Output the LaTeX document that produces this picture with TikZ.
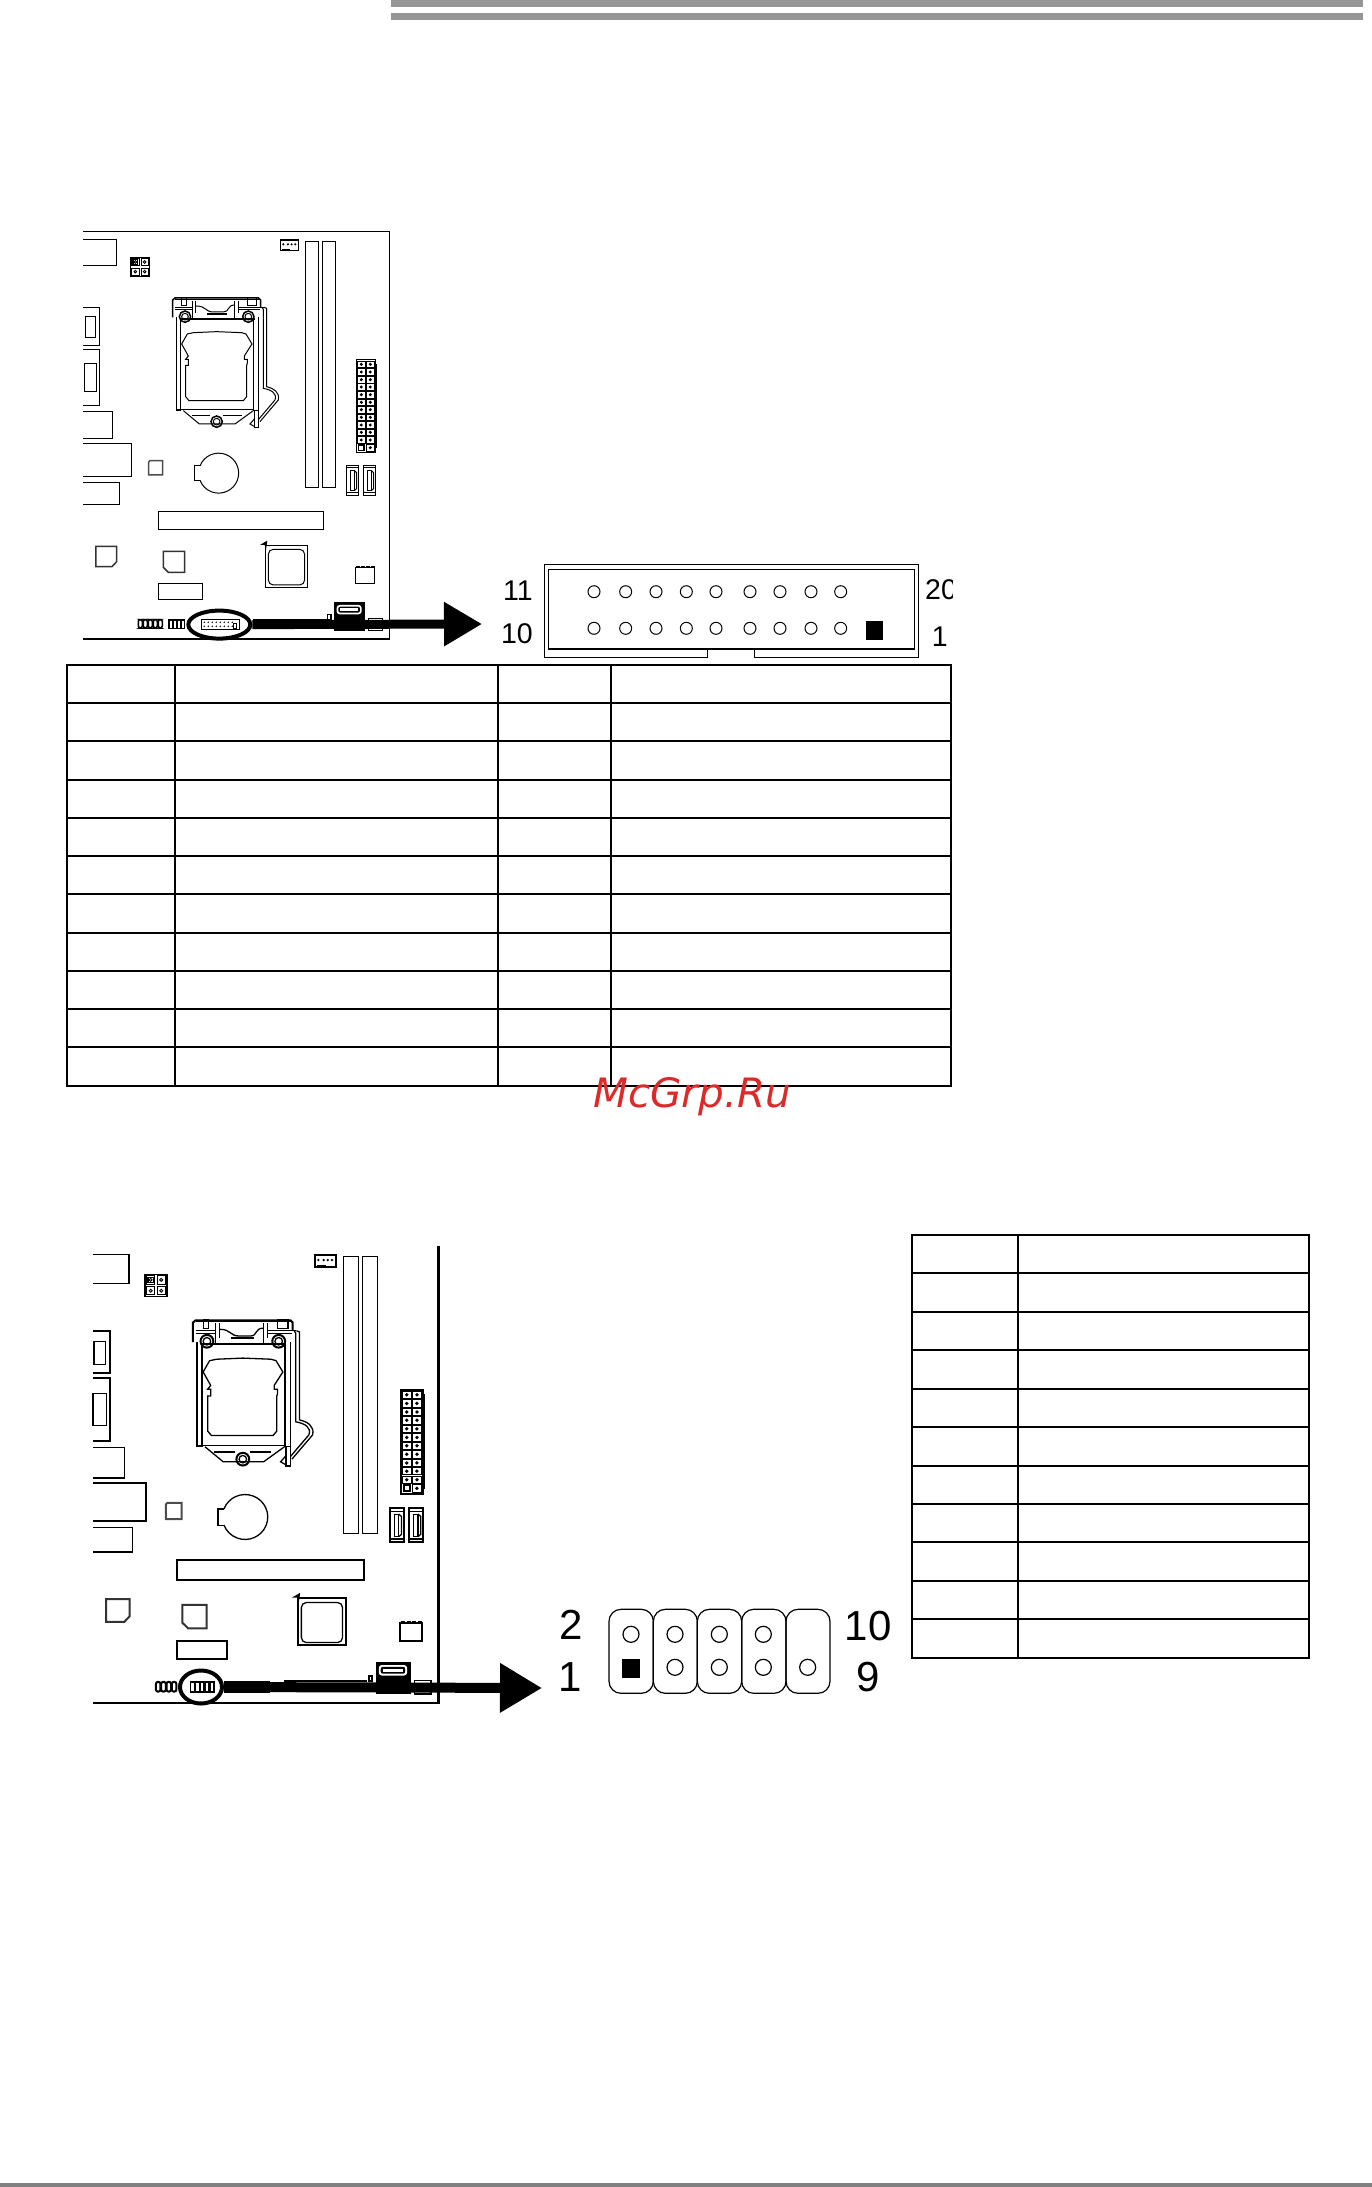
\documentclass[tikz,border=0pt]{standalone}
\usepackage{fontspec}
\setmainfont{Liberation Sans}
\newfontfamily\markfont{DejaVu Sans}
\usetikzlibrary{arrows.meta, positioning, shapes.geometric}
\definecolor{barGray}{HTML}{969696}
\definecolor{footGray}{HTML}{808080}
\definecolor{markRed}{HTML}{DC2A2A}

\tikzset{
  partline/.style={line width=1pt},
  heavypart/.style={line width=1.5pt},
  tableline/.style={line width=2pt},
  pinhole/.style={line width=1pt},
  pinlabel/.style={inner sep=0pt, font=\fontsize{28.5}{30}\selectfont},
  biglabel/.style={inner sep=0pt, font=\fontsize{42}{44}\selectfont},
  spotring/.style={draw, ellipse, line width=4pt, inner sep=0pt},
  bigarrow/.style={-{Triangle[length=38pt,width=42pt]}, line width=9pt}
}

% board sketch, in its own local coordinates
\newcommand{\boardsketch}{
  % io panel
  \draw[partline] (\boardleft,58) -- (169,58) -- (169,136) -- (\boardleft,136);
  \draw[heavypart] (\boardleft,262) -- (119,262) -- (119,376) -- (\boardleft,376);
  \draw[partline] (76,290) rectangle (106,352);
  \draw[heavypart] (\boardleft,388) -- (119,388) -- (119,556) -- (\boardleft,556);
  \draw[partline] (73,430) rectangle (109,515);
  \draw[partline] (\boardleft,574) -- (157,574) -- (157,655) -- (\boardleft,655);
  \draw[heavypart] (\boardleft,670) -- (214,670) -- (214,769) -- (\boardleft,769);
  \draw[partline] (\boardleft,787) -- (178,787) -- (178,853) -- (\boardleft,853);
  % cpu power
  \draw[line width=1.6pt] (211,112) rectangle (269,170);
  \foreach \xa/\ya in {226/126,254/126,226/155,254/155}{
    \draw[line width=.9pt] (\xa-11,\ya-11) rectangle (\xa+11,\ya+11);
    \draw[line width=.9pt] (\xa,\ya) circle (4);
  }
  \draw[line width=1.4pt] (219,119) rectangle (233,133);
  % fan header
  \draw[heavypart] (661,60) rectangle (716,92);
  \foreach \xa in {670,684,695,706}
    \fill (\xa,73) circle (3.5);
  \draw[heavypart] (666,88) -- (690,88);
  % memory slots
  \draw[partline] (737,64) rectangle (776,803);
  \draw[partline] (787,64) rectangle (827,803);
  % atx
  \draw[heavypart] (889,419) rectangle (947,697);
  \draw[partline] (947,433) -- (951,433) -- (951,683) -- (947,683);
  \foreach \ya in {433,456,479,501,524,547,569,592,615,637,660}{
    \draw[line width=.9pt] (893,\ya-10) rectangle (916,\ya+10);
    \draw[line width=.9pt] (920,\ya-10) rectangle (942,\ya+10);
    \fill (904,\ya) circle (5);
    \fill (931,\ya) circle (5);
  }
  \draw[heavypart] (896,675) rectangle (912,691);
  \draw[line width=.9pt] (920,673) rectangle (942,693);
  \fill (931,683) circle (5);
  % sata
  \foreach \xa in {859,910}{
    \draw[heavypart] (\xa,736) rectangle (\xa+37,826);
    \draw[partline] (\xa,744) -- (\xa+37,744) (\xa,818) -- (\xa+37,818);
    \draw[partline] (\xa+12,752) rectangle (\xa+24,812);
    \draw[partline] (\xa+24,752) -- (\xa+31,758) -- (\xa+31,806) -- (\xa+24,812);
  }
  % socket
  \draw[heavypart] (338,292) -- (338,240) -- (345,234) -- (596,234) -- (602,240) -- (602,262);
  \draw[partline] (345,238) -- (596,238);
  \draw[partline] (349,292) -- (349,572) -- (362,572);
  \draw[partline] (597,292) -- (597,572) -- (580,572);
  \draw[partline] (362,300) -- (362,572) (582,300) -- (582,572);
  \draw[partline] (350,568) -- (582,568);
  \draw[heavypart] (360,297) -- (585,297);
  \draw[partline] (345,262) -- (400,262) (345,270) -- (400,270);
  \draw[partline] (398,242) -- (398,294) (408,242) -- (408,280);
  \draw[partline] (525,242) -- (525,294) (535,242) -- (535,280);
  \draw[partline] (408,258) .. controls (440,258) and (435,276) .. (460,276) -- (490,276) .. controls (510,276) and (500,255) .. (525,255);
  \draw[heavypart] (440,282) -- (500,282);
  \draw[partline] (535,262) -- (612,262);
  \draw[partline] (535,270) -- (600,270);
  \draw[partline] (366,232) rectangle (380,256);
  \draw[partline] (562,232) rectangle (590,256);
  \draw[partline] (365,372) -- (382,342) -- (400,338) -- (470,335) -- (545,338) -- (558,342) -- (576,372) -- (553,408) -- (553,418) -- (562,418) -- (562,430) -- (560,436) -- (560,530) -- (550,542) -- (387,542) -- (377,530) -- (377,436) -- (385,436) -- (385,418) -- (377,418) -- (385,408) -- cycle;
  \draw[partline] (612,262) -- (620,265) -- (620,500) .. controls (640,505) and (660,515) .. (655,540) -- (600,605);
  \draw[partline] (606,262) -- (610,268) -- (610,505) .. controls (635,510) and (652,520) .. (645,540) -- (596,598);
  \draw[partline] (584,572) rectangle (596,623);
  \draw[partline] (584,596) -- (570,612) -- (584,620);
  \draw[partline] (370,572) -- (418,612) -- (525,612) -- (580,572);
  \draw[partline] (395,586) -- (450,586) (490,586) -- (545,586);
  \foreach \xa/\ya in {375/290,565/290,470/605}{
    \draw[heavypart] (\xa,\ya) circle (17);
    \draw[partline] (\xa,\ya) circle (10);
  }
  % battery
  \draw[partline] (420,738) -- (404,738) -- (404,782) -- (420,782);
  \draw[partline] (420,738) arc[start angle=201, end angle=519, radius=60];
  % small chip
  \draw[heavypart, black!70] (266,726) -- (270,722) -- (308,722) -- (308,765) -- (266,765) -- cycle;
  % pcie slot
  \draw[heavypart] (295,874) rectangle (790,928);
  % chips
  \draw[heavypart, black!80] (108,979) -- (170,979) -- (170,1025) -- (156,1040) -- (108,1040) -- cycle;
  \draw[heavypart, black!80] (310,994) -- (374,994) -- (374,1057) -- (325,1057) -- (310,1042) -- cycle;
  \draw[heavypart] (295,1090) rectangle (427,1138);
  % south bridge
  \draw[heavypart] (616,976) rectangle (742,1102);
  \draw[partline, rounded corners=5] (625,988) rectangle (734,1095);
  \fill (600,975) -- (622,962) -- (618,990) -- (614,975) -- cycle;
  % small part
  \draw[heavypart] (886,1042) rectangle (944,1090);
  \foreach \xa in {889,904,919,934}
    \draw[line width=1.6pt] (\xa,1040) -- (\xa+10,1040);
  % black sata
  \fill (823,1147) rectangle (914,1232);
  \fill[white, rounded corners=3] (830,1155) rectangle (905,1183);
  \fill[rounded corners=2] (835,1160) rectangle (900,1178);
  \fill[white] (840,1165) rectangle (895,1173);
  \draw[heavypart] (803,1184) rectangle (813,1198);
  \draw[partline] (925,1197) rectangle (968,1232);
  % bottom rails
  \draw[heavypart] (580,1198) -- (800,1198);
}

\begin{document}
\begin{tikzpicture}[x=1pt,y=-1pt]
\useasboundingbox (0,0) rectangle (1372,2187);

% header and footer bars
\fill[barGray] (391,0) rectangle (1363,7);
\fill[barGray] (391,13) rectangle (1363,20);
\fill[footGray] (0,2183) rectangle (1372,2187);

% upper board
\begin{scope}[shift={(60,220)},x=.3333pt,y=-.3333pt]
  \def\boardleft{69}
  \boardsketch
  \draw[heavypart] (69,35) -- (988,35) -- (988,1257) -- (69,1257);
  \foreach \xa in {241,256,271,286,301}
    \draw[line width=1.6pt, rounded corners=2] (\xa-6,1199) rectangle (\xa+6,1224);
  \foreach \xa in {332,344,356,368}
    \draw[line width=1.4pt] (\xa-5,1200) rectangle (\xa+5,1226);
  \draw[heavypart] (424,1199) rectangle (538,1228);
  \foreach \xa in {433,445,457,469,481,493,505,517}{
    \fill (\xa,1207) circle (2.5);
    \fill (\xa,1219) circle (2.5);
  }
  \draw[partline] (520,1212) rectangle (530,1226);
\end{scope}

% lower board
\begin{scope}[shift={(65.3,1232.7)},x=.3777pt,y=-.3743pt]
  \tikzset{partline/.style={line width=1.3pt},heavypart/.style={line width=2pt}}
  \def\boardleft{74}
  \boardsketch
  \draw[line width=2.4pt] (988,35) -- (988,1257) -- (74,1257);
  \foreach \xa in {246,260,274,288}
    \draw[line width=2pt, rounded corners=2] (\xa-6,1200) rectangle (\xa+6,1226);
  \foreach \xa in {337,350,363,376,389}
    \draw[line width=1.6pt] (\xa-5,1200) rectangle (\xa+5,1227);
\end{scope}

% callouts
\node[spotring, minimum width=62pt, minimum height=28pt] (headerspot) at (219.3,624.6) {};
\coordinate (headertip) at (482,624);
\draw[bigarrow] (headerspot.east) -- (headertip);

\node[spotring, minimum width=42pt, minimum height=33pt] (frontspot) at (201,1687) {};
\coordinate (fronttip) at (542,1688);
\fill (frontspot.east) ++(0,-6) rectangle (270,1693);
\draw[bigarrow, line width=10pt, -{Triangle[length=42pt,width=47pt]}] (frontspot.east) -- (fronttip);

% 20-pin header
\draw[line width=1.2pt] (707.3,649) -- (707.3,657.3) -- (544.3,657.3) -- (544.3,564.7) -- (918.3,564.7) -- (918.3,657.3) -- (754.3,657.3) -- (754.3,649);
\draw[line width=.9pt] (548.3,569.3) rectangle (914.3,649);
\draw[line width=1.8pt] (548.3,649) -- (914.3,649);
\foreach \xa in {372,467,558,649,738,840,930,1023,1112}{
  \draw[pinhole] (470+\xa/3,591.7) circle (6);
  \draw[pinhole] (470+\xa/3,628.3) circle (6);
}
\fill (866,621) rectangle (883,640);

\node[pinlabel, anchor=base east] (lab11) at (533,600) {11};
\node[pinlabel, anchor=base east] (lab10) at (533,643.3) {10};
\begin{scope}
  \clip (0,0) rectangle (952,700);
  \node[pinlabel, anchor=base west] (lab20) at (925,599.3) {20};
\end{scope}
\node[pinlabel, anchor=base east] (lab1) at (948,646.7) {1};

% upper table
\draw[tableline] (66.7,665) rectangle (951,1085.5);
\foreach \xa in {175,497.7,611}
  \draw[tableline] (\xa,665) -- (\xa,1085.5);
\foreach \ya in {1,...,10}
  \draw[tableline] (66.7,665+\ya*38.23) -- (951,665+\ya*38.23);

% watermark
\node[inner sep=0pt, anchor=base west, text=markRed, font=\markfont\itshape\fontsize{40.5}{42}\selectfont] (markname) at (593,1107) {McGrp.Ru};

% lower table
\draw[tableline] (911.7,1235) rectangle (1308.7,1657.6);
\draw[tableline] (1018.3,1235) -- (1018.3,1657.6);
\foreach \ya in {1,...,10}
  \draw[tableline] (911.7,1235+\ya*38.42) -- (1308.7,1235+\ya*38.42);

% 10-pin header
\foreach \xa/\xb in {207/340,340/472,472/605,605/738,738/870}
  \draw[line width=1.2pt, rounded corners=12pt] (540+\xa/3,1609.3) rectangle (540+\xb/3,1693.3);
\foreach \xa in {273,405,538,670}
  \draw[pinhole, line width=1.2pt] (540+\xa/3,1634.3) circle (8);
\foreach \xa in {405,538,670,803}
  \draw[pinhole, line width=1.2pt] (540+\xa/3,1667.3) circle (8);
\fill (622.3,1659.3) rectangle (640,1677.7);

\node[biglabel, anchor=base] (lab2b) at (571,1639.3) {2};
\node[biglabel, anchor=base] (lab1b) at (570.5,1691.7) {1};
\node[biglabel, anchor=base] (lab10b) at (868,1640.7) {10};
\node[biglabel, anchor=base] (lab9b) at (868,1691.7) {9};
\end{tikzpicture}
\end{document}
